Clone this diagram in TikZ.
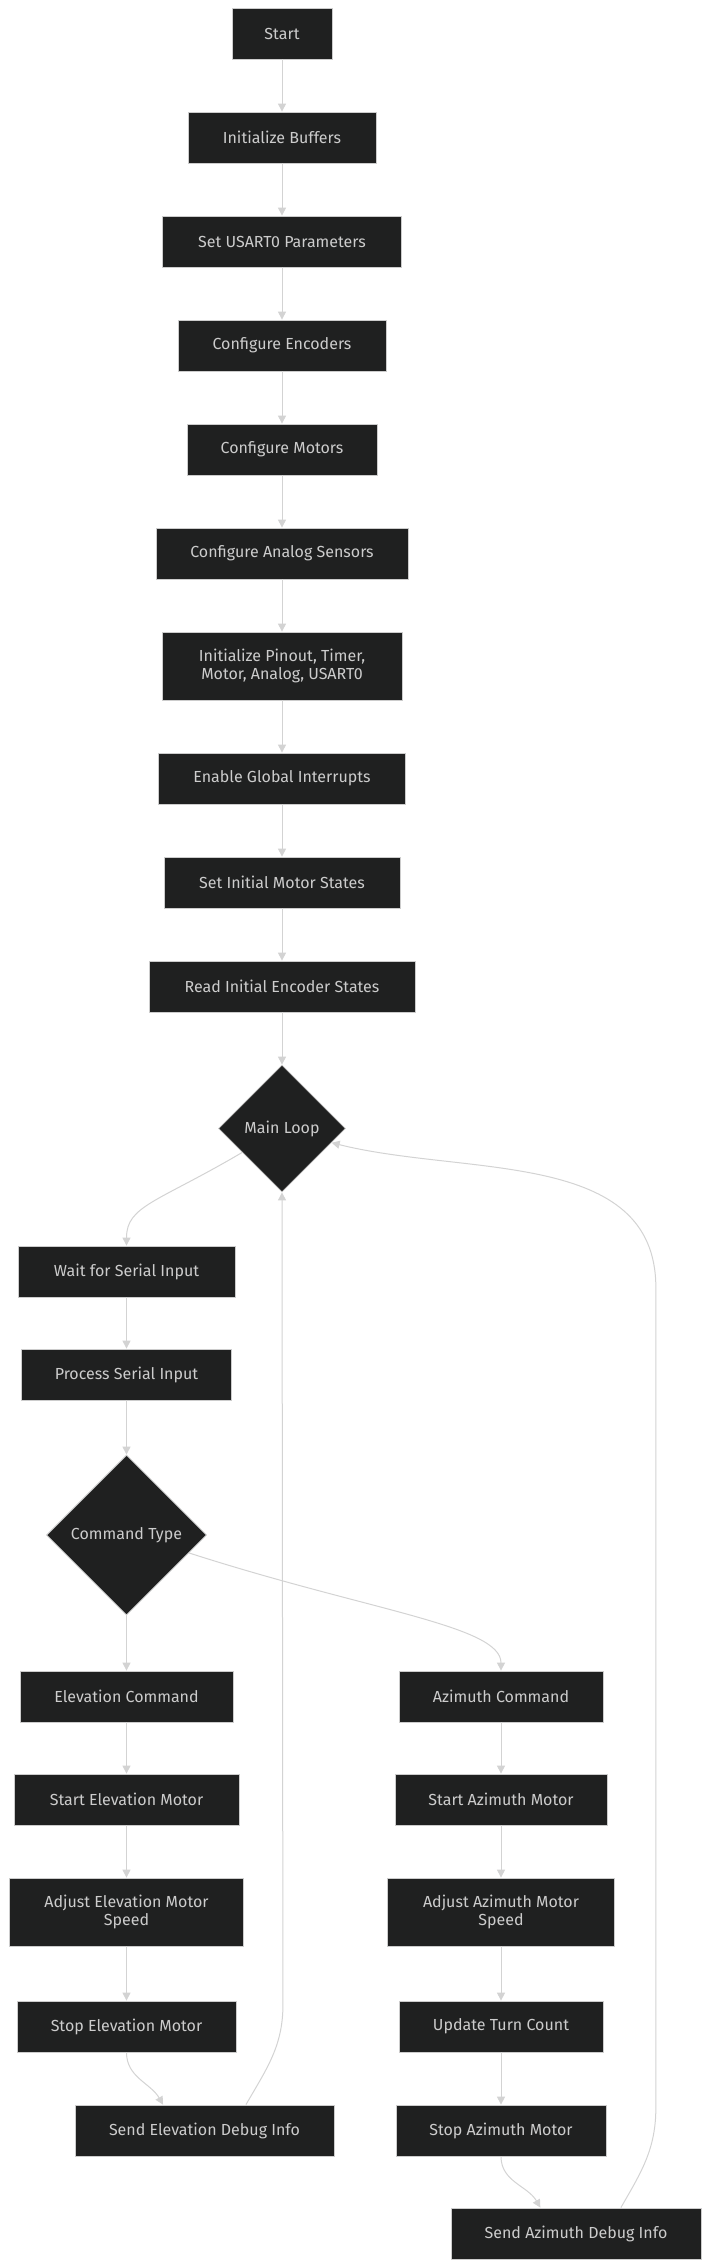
\documentclass[tikz,border=0pt]{standalone}
\usepackage{fontspec}
\setmainfont{Fira Sans}
\usetikzlibrary{shapes.geometric,arrows.meta,positioning}
\definecolor{nodefill}{HTML}{1F2020}
\definecolor{nodeline}{HTML}{CCCCCC}
\definecolor{nodetext}{HTML}{CCCCCC}
\definecolor{linkgray}{HTML}{D3D3D3}

\begin{document}
\begin{tikzpicture}[
  x=1pt,y=-1pt,
  node distance=52.2pt,
  box/.style={draw=nodeline,fill=nodefill,text=nodetext,line width=0.8pt,minimum height=51pt,inner xsep=0pt,align=center,font=\fontsize{16}{18}\selectfont},
  tallbox/.style={box,minimum height=68pt},
  decision/.style={diamond,aspect=1,draw=nodeline,fill=nodefill,text=nodetext,line width=0.8pt,inner sep=0pt,font=\fontsize{16}{18}\selectfont},
  flow/.style={-{Triangle[length=8pt,width=8pt]},draw=linkgray,line width=1pt}
]
  \useasboundingbox (0,0) rectangle (710,2268);

  % setup chain
  \node[box,minimum width=100pt] (start) at (282,33.5) {Start};
  \node[box,minimum width=188pt,below=of start] (initbuf) {Initialize Buffers};
  \node[box,minimum width=239pt,below=of initbuf] (usart) {Set USART0 Parameters};
  \node[box,minimum width=208pt,below=of usart] (confenc) {Configure Encoders};
  \node[box,minimum width=190pt,below=of confenc] (confmot) {Configure Motors};
  \node[box,minimum width=252pt,below=of confmot] (confana) {Configure Analog Sensors};
  \node[tallbox,minimum width=240pt,below=of confana] (initall) {Initialize Pinout, Timer,\\Motor, Analog, USART0};
  \node[box,minimum width=247pt,below=of initall] (intr) {Enable Global Interrupts};
  \node[box,minimum width=236pt,below=of intr] (motstate) {Set Initial Motor States};
  \node[box,minimum width=266pt,below=of motstate] (encstate) {Read Initial Encoder States};
  \node[decision,minimum size=127pt,below=of encstate] (mainloop) {Main Loop};

  % serial input
  \node[box,minimum width=217pt] (wait) at (126.5,1271.5) {Wait for Serial Input};
  \node[box,minimum width=210pt,below=51.2pt of wait] (process) {Process Serial Input};
  \node[decision,minimum size=160pt,below=54.2pt of process] (cmdtype) {Command Type};

  % elevation branch
  \node[box,minimum width=213pt,below=55.2pt of cmdtype] (elcmd) {Elevation Command};
  \node[box,minimum width=225pt,below=51.2pt of elcmd] (elstart) {Start Elevation Motor};
  \node[tallbox,minimum width=234pt,below=of elstart] (eladjust) {Adjust Elevation Motor\\Speed};
  \node[box,minimum width=219pt,below=54.2pt of eladjust] (elstop) {Stop Elevation Motor};
  \node[box,minimum width=259pt] (eldebug) at (204.5,2130.5) {Send Elevation Debug Info};

  % azimuth branch
  \node[box,minimum width=204pt] (azcmd) at (501,1696.5) {Azimuth Command};
  \node[box,minimum width=212pt,below=51.2pt of azcmd] (azstart) {Start Azimuth Motor};
  \node[tallbox,minimum width=227pt,below=of azstart] (azadjust) {Adjust Azimuth Motor\\Speed};
  \node[box,minimum width=204pt,below=54.2pt of azadjust] (azturn) {Update Turn Count};
  \node[box,minimum width=210pt,below=of azturn] (azstop) {Stop Azimuth Motor};
  \node[box,minimum width=250pt] (azdebug) at (576,2233.5) {Send Azimuth Debug Info};

  \draw[flow] (start) -- (initbuf);
  \draw[flow] (initbuf) -- (usart);
  \draw[flow] (usart) -- (confenc);
  \draw[flow] (confenc) -- (confmot);
  \draw[flow] (confmot) -- (confana);
  \draw[flow] (confana) -- (initall);
  \draw[flow] (initall) -- (intr);
  \draw[flow] (intr) -- (motstate);
  \draw[flow] (motstate) -- (encstate);
  \draw[flow] (encstate) -- (mainloop);
  \draw[flow] (mainloop.-149) .. controls +(-85,50) and +(0,-40) .. (wait.north);
  \draw[flow] (wait) -- (process);
  \draw[flow] (process) -- (cmdtype);
  \draw[flow] (cmdtype) -- (elcmd);
  \draw[flow] (cmdtype.-16) .. controls +(180,58) and +(0,-45) .. (azcmd.north);
  \draw[flow] (elcmd) -- (elstart);
  \draw[flow] (elstart) -- (eladjust);
  \draw[flow] (eladjust) -- (elstop);
  \draw[flow] (elstop.south) to[out=-90,in=120] (eldebug.148);
  \draw[flow] (eldebug.32) to[out=60,in=-90] ++(37,-100) -- (mainloop.south);
  \draw[flow] (azcmd) -- (azstart);
  \draw[flow] (azstart) -- (azadjust);
  \draw[flow] (azadjust) -- (azturn);
  \draw[flow] (azturn) -- (azstop);
  \draw[flow] (azstop.south) to[out=-90,in=120] (azdebug.144);
  \draw[flow] (azdebug.30) to[out=60,in=-90] ++(35,-100) -- ++(0,-820) to[out=90,in=-14] (mainloop.-16);
\end{tikzpicture}
\end{document}
